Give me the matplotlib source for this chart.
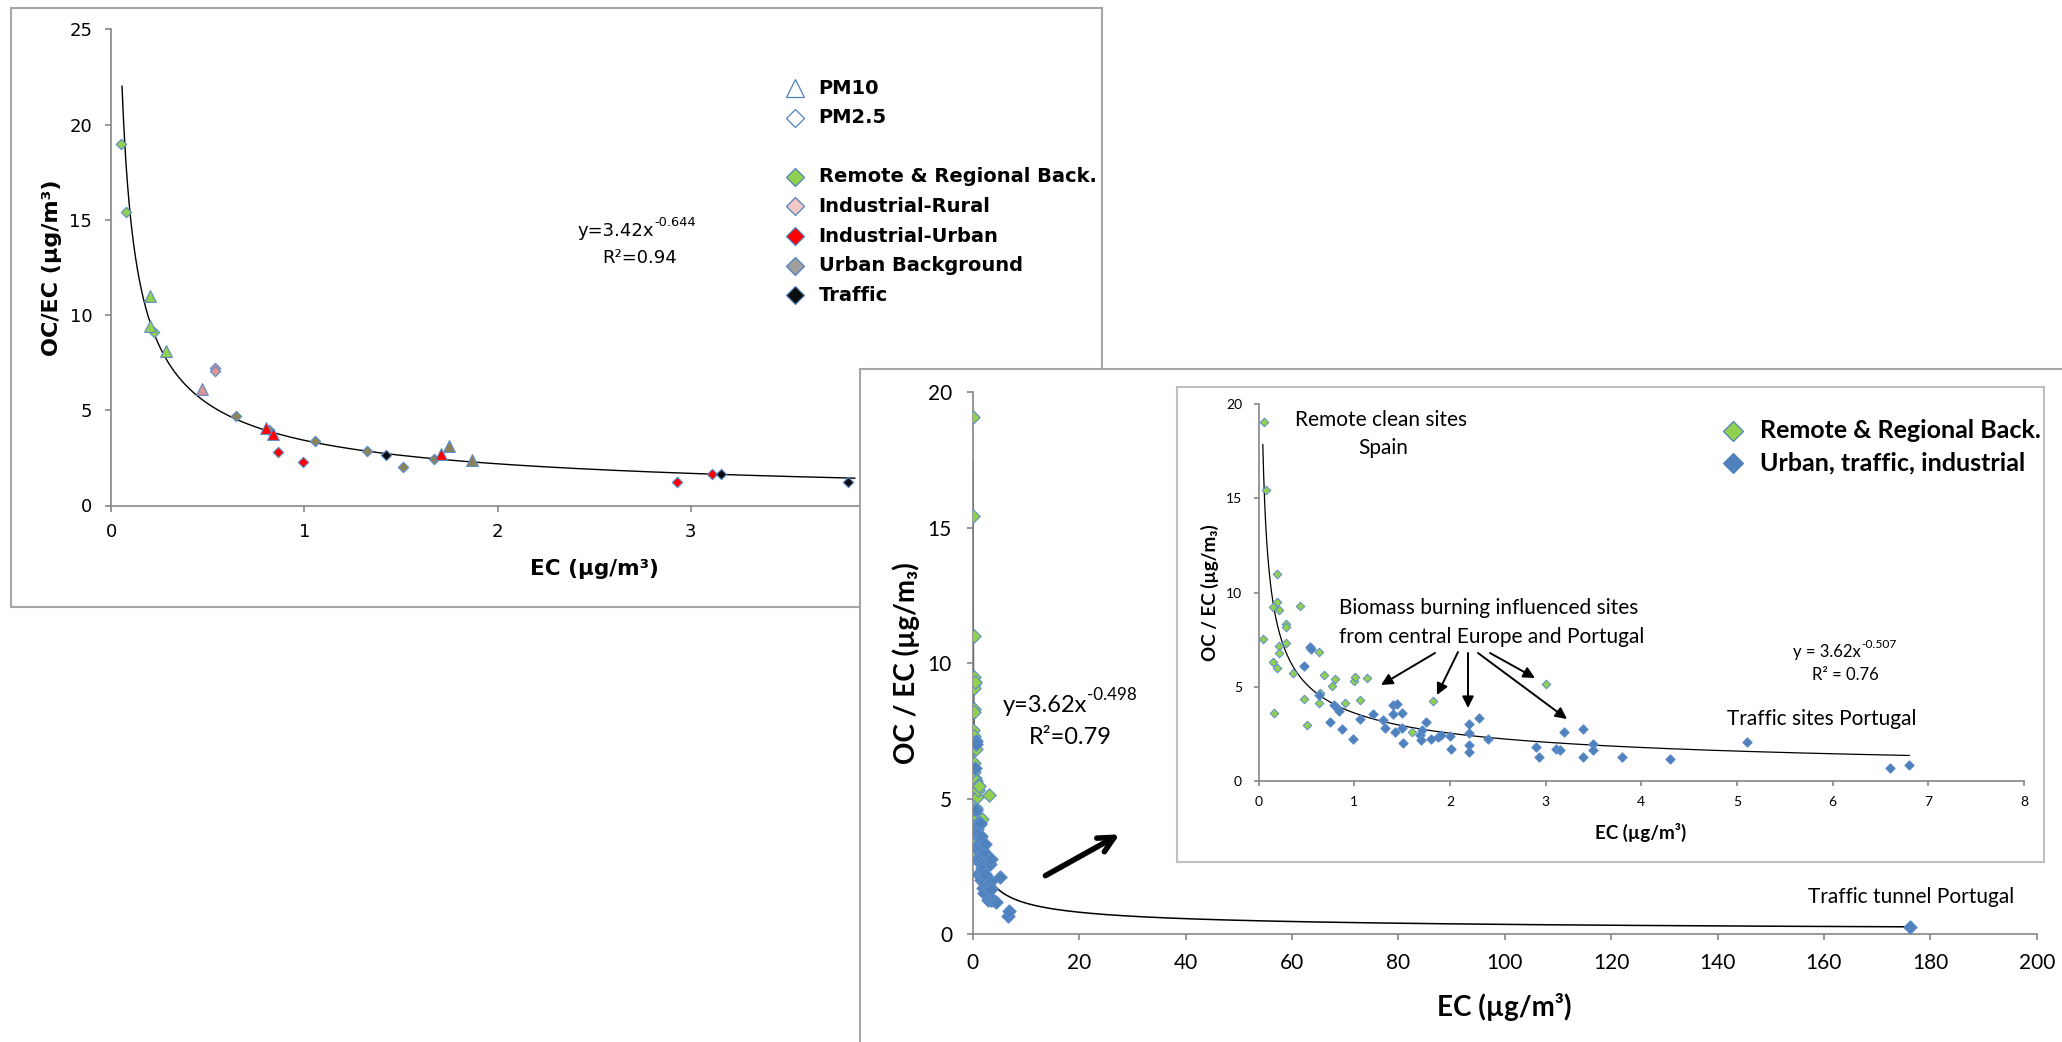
import numpy as np
import matplotlib.pyplot as plt
import matplotlib.transforms as mtransforms

W, H = 2062, 1042
LATO = ['Lato', 'DejaVu Sans']

# ---- left panel: OC/EC vs EC by site type (tri = PM10, dia = PM2.5)
rem_dia_x = [0.052, 0.074, 0.222]
rem_dia_y = [19.0, 15.4, 9.1]
rem_tri_x = [0.20, 0.20, 0.283]
rem_tri_y = [11.0, 9.4, 8.1]
indr_dia_x = [0.537, 0.537]
indr_dia_y = [7.2, 7.05]
indr_tri_x = [0.47]
indr_tri_y = [6.1]
indu_dia_x = [0.865, 0.993, 2.928, 3.112]
indu_dia_y = [2.82, 2.26, 1.25, 1.65]
indu_tri_x = [0.80, 0.837, 1.707]
indu_tri_y = [4.06, 3.75, 2.71]
ub_dia_x = [0.644, 0.818, 1.057, 1.324, 1.51, 1.67]
ub_dia_y = [4.68, 3.95, 3.37, 2.88, 2.03, 2.46]
ub_tri_x = [1.75, 1.87]
ub_tri_y = [3.13, 2.40]
tr_dia_x = [1.42, 3.157, 3.817]
tr_dia_y = [2.67, 1.65, 1.25]

# ---- right panel: remote/regional vs urban/traffic/industrial
green_x = [0.052, 0.077, 0.195, 0.153, 0.195, 0.216, 0.435, 0.042, 0.286, 0.286,
           0.212, 0.286, 0.212, 0.153, 0.195, 0.355, 0.627, 0.164, 0.477, 0.505,
           0.627, 0.644, 0.683, 0.766, 0.794, 0.899, 0.996, 1.007, 1.059, 1.129,
           1.602, 1.825, 2.999]
green_y = [19.06, 15.42, 11.0, 9.24, 9.49, 9.08, 9.31, 7.54, 8.32, 8.2,
           7.19, 7.31, 6.82, 6.31, 6.0, 5.76, 6.84, 3.64, 4.35, 2.99,
           4.13, 4.66, 5.64, 5.05, 5.42, 4.13, 5.32, 5.51, 4.31, 5.46,
           2.63, 4.26, 5.14]
blue_x = [0.470, 0.540, 0.550, 0.630, 0.749, 0.791, 0.815, 0.839, 0.867, 0.989,
          1.059, 1.198, 1.303, 1.324, 1.400, 1.400, 1.442, 1.425, 1.501, 1.512,
          1.494, 1.686, 1.693, 1.745, 1.710, 1.797, 1.870, 1.905, 1.999, 2.006,
          2.198, 2.198, 2.198, 2.198, 2.299, 2.400, 2.894, 2.929, 3.107, 3.149,
          3.194, 3.392, 3.392, 3.497, 3.497, 3.800, 4.295, 5.10, 6.60, 6.80]
blue_y = [6.13, 7.14, 7.0, 4.6, 3.16, 4.05, 3.87, 3.73, 2.77, 2.23,
          3.30, 3.55, 3.25, 2.84, 4.06, 3.55, 4.10, 2.63, 3.64, 2.01,
          2.81, 2.46, 2.19, 3.13, 2.72, 2.23, 2.37, 2.46, 2.40, 1.71,
          3.04, 2.58, 1.91, 1.54, 3.34, 2.23, 1.84, 1.27, 1.70, 1.66,
          2.60, 2.76, 1.27, 1.96, 1.66, 1.27, 1.18, 2.10, 0.69, 0.86]
tunnel_x = [176.2]
tunnel_y = [0.28]

# power-law trendlines y = a * x^b, with the x range they are drawn over
fit_left = (3.42, -0.644, 0.0555, 3.85)
fit_main = (3.62, -0.498, 0.0427, 176.2)
fit_inset = (3.62, -0.507, 0.043, 6.8)

GREEN, BLUE = '#92D050', '#4F81BD'
EDGE = '#5B8CCB'
PINK, RED, OLIVE, BLACK = '#D99594', '#FF0000', '#8C8259', '#0D0D0D'
AXC = '#868686'

plt.rcParams['font.family'] = ['DejaVu Sans']
fig = plt.figure(figsize=(W / 100, H / 100), dpi=100)
fig.patch.set_facecolor('white')
# pixel coords (origin top-left) -> figure
T = mtransforms.Affine2D().scale(1 / W, -1 / H).translate(0, 1) + fig.transFigure


def box(l, t, r, b):
    return [l / W, 1 - b / H, (r - l) / W, (b - t) / H]


def frame(rect, z, color):
    a = fig.add_axes(rect, zorder=z)
    a.set_xticks([])
    a.set_yticks([])
    a.set_facecolor('white')
    for s in a.spines.values():
        s.set_color(color)
        s.set_linewidth(1.5)
    return a


def style(ax, fs, padx, pady, tlen, family):
    for s in ['top', 'right']:
        ax.spines[s].set_visible(False)
    for s in ['left', 'bottom']:
        ax.spines[s].set_color(AXC)
        ax.spines[s].set_linewidth(1.2)
    ax.tick_params(direction='out', length=tlen, width=1.2, color=AXC, labelsize=fs)
    ax.tick_params(axis='x', pad=padx)
    ax.tick_params(axis='y', pad=pady)
    for lb in ax.get_xticklabels() + ax.get_yticklabels():
        lb.set_fontfamily(family)
    ax.patch.set_alpha(0)


def powerline(ax, fit, lw=1.0):
    a, b, x0, x1 = fit
    xs = np.geomspace(x0, x1, 500)
    ax.plot(xs, a * xs ** b, color='black', lw=lw, zorder=2)


def eq_text(ax, x, y, base, sup, fs, family):
    t = ax.text(x, y, base, transform=T, ha='left', va='center', fontsize=fs,
                family=family)
    ax.annotate(sup, xy=(1.0, 0.62), xycoords=t, ha='left', va='bottom',
                fontsize=fs * 0.72, family=family)


# ================= left panel =================
frame(box(10.7, 8, 1102, 607), 0, '#A6A6A6')
axL = fig.add_axes(box(111.3, 29.3, 883.7, 505.5), zorder=1)
axL.set_xlim(0, 4)
axL.set_ylim(0, 25)
axL.set_xticks([0, 1, 2, 3, 4])
axL.set_yticks([0, 5, 10, 15, 20, 25])
style(axL, 13, 8, 9.5, 4.3, ['DejaVu Sans'])
powerline(axL, fit_left)

groups = [
    (rem_dia_x, rem_dia_y, 'D', GREEN, 28), (rem_tri_x, rem_tri_y, '^', GREEN, 72),
    (indr_dia_x, indr_dia_y, 'D', PINK, 28), (indr_tri_x, indr_tri_y, '^', PINK, 72),
    (ub_dia_x, ub_dia_y, 'D', OLIVE, 28), (ub_tri_x, ub_tri_y, '^', OLIVE, 72),
    (indu_tri_x, indu_tri_y, '^', RED, 72), (indu_dia_x, indu_dia_y, 'D', RED, 28),
    (tr_dia_x, tr_dia_y, 'D', BLACK, 28),
]
for gx, gy, m, c, s in groups:
    axL.scatter(gx, gy, marker=m, s=s, c=c, edgecolors=EDGE, linewidths=0.8, zorder=3)

axL.text(51.8, 268, 'OC/EC (µg/m³)', transform=T, rotation=90, ha='center',
         va='center', fontsize=16, fontweight='bold')
axL.text(594, 569, 'EC (µg/m³)', transform=T, ha='center', va='center',
         fontsize=15.5, fontweight='bold')
eq_text(axL, 578, 231, 'y=3.42x', '-0.644', 13, ['DejaVu Sans'])
axL.text(640, 258, 'R²=0.94', transform=T, ha='center', va='center', fontsize=13)

leg = [('PM10', '^', 'white', 13.4), ('PM2.5', 'D', 'white', 9.5),
       ('Remote & Regional Back.', 'D', GREEN, 9.5),
       ('Industrial-Rural', 'D', '#F4C7C7', 9.5),
       ('Industrial-Urban', 'D', RED, 9.5),
       ('Urban Background', 'D', '#A0A0A0', 9.5),
       ('Traffic', 'D', BLACK, 9.5)]
for (lab, m, c, ms), row in zip(leg, [0, 1, 3, 4, 5, 6, 7]):
    yy = 88 + 29.6 * row
    axL.plot([795], [yy], marker=m, ms=ms, mfc=c, mec='#4F81BD', mew=0.9,
             transform=T, clip_on=False, ls='none')
    axL.text(818.6, yy, lab, transform=T, ha='left', va='center', fontsize=14,
             fontweight='bold')

# ================= right panel =================
frame(box(860, 368.7, 2120, 1100), 2, '#A6A6A6')
axM = fig.add_axes(box(972.7, 392, 2036.7, 934.3), zorder=3)
axM.set_xlim(0, 200)
axM.set_ylim(0, 20)
axM.set_xticks(range(0, 201, 20))
axM.set_yticks(range(0, 21, 5))
style(axM, 15, 9.5, 10.6, 4.3, LATO)
powerline(axM, fit_main, lw=1.1)
axM.scatter(green_x, green_y, marker='D', s=46, c=GREEN, edgecolors=EDGE,
            linewidths=0.8, zorder=3)
axM.scatter(blue_x + tunnel_x, blue_y + tunnel_y, marker='D', s=46, c=BLUE,
            edgecolors=EDGE, linewidths=0.8, zorder=3)
axM.text(906.5, 663, 'OC / EC (µg/m₃)', transform=T, rotation=90, ha='center',
         va='center', fontsize=20, fontweight='bold', family=LATO)
axM.text(1504.7, 1006.7, 'EC (µg/m³)', transform=T, ha='center', va='center',
         fontsize=20, fontweight='bold', family=LATO)
eq_text(axM, 1003, 706, 'y=3.62x', '-0.498', 17, LATO)
axM.text(1070, 737, 'R²=0.79', transform=T, ha='center', va='center',
         fontsize=17, family=LATO)
axM.text(1911, 897, 'Traffic tunnel Portugal', transform=T, ha='center',
         va='center', fontsize=15, family=LATO)
axM.annotate('', xy=(1122, 833), xytext=(1043, 877), xycoords=T, textcoords=T,
             arrowprops=dict(arrowstyle='->', color='black', lw=4,
                             mutation_scale=28))

# ================= inset =================
frame(box(1177, 387, 2044, 862), 4, '#BFBFBF')
axI = fig.add_axes(box(1258.7, 404, 2024, 781.3), zorder=5)
axI.set_xlim(0, 8)
axI.set_ylim(0, 20)
axI.set_xticks(range(0, 9))
axI.set_yticks(range(0, 21, 5))
style(axI, 10, 7, 8.6, 3.4, LATO)
powerline(axI, fit_inset, lw=0.9)
axI.scatter(green_x, green_y, marker='D', s=19, c=GREEN, edgecolors=EDGE,
            linewidths=0.7, zorder=3)
axI.scatter(blue_x, blue_y, marker='D', s=23, c=BLUE, edgecolors=EDGE,
            linewidths=0.7, zorder=3)
axI.text(1210, 593, 'OC / EC (µg/m₃)', transform=T, rotation=90, ha='center',
         va='center', fontsize=13.5, fontweight='bold', family=LATO)
axI.text(1641, 832, 'EC (µg/m³)', transform=T, ha='center', va='center',
         fontsize=13.5, fontweight='bold', family=LATO)
axI.text(1295, 420, 'Remote clean sites', transform=T, ha='left', va='center',
         fontsize=15, family=LATO)
axI.text(1383, 448, 'Spain', transform=T, ha='center', va='center',
         fontsize=15, family=LATO)
axI.text(1339, 608, 'Biomass burning influenced sites', transform=T, ha='left',
         va='center', fontsize=15, family=LATO)
axI.text(1339, 637, 'from central Europe and Portugal', transform=T, ha='left',
         va='center', fontsize=15, family=LATO)
arrows = [((1435, 653), (1381, 685)), ((1458, 652), (1437, 695)),
          ((1468, 653), (1468, 708)), ((1478, 653), (1567, 719)),
          ((1490, 653), (1535, 678))]
for p0, p1 in arrows:
    axI.annotate('', xy=p1, xytext=p0, xycoords=T, textcoords=T,
                 arrowprops=dict(arrowstyle='-|>', color='black', lw=1.4,
                                 mutation_scale=17, shrinkA=0, shrinkB=0))
axI.text(1726.7, 719, 'Traffic sites Portugal', transform=T, ha='left',
         va='center', fontsize=15, family=LATO)
eq_text(axI, 1793, 652, 'y = 3.62x', '-0.507', 12, LATO)
axI.text(1845.7, 675, 'R² = 0.76', transform=T, ha='center', va='center',
         fontsize=12, family=LATO)
for lab, c, yy in [('Remote & Regional Back.', GREEN, 430.7),
                   ('Urban, traffic, industrial', BLUE, 462.7)]:
    axI.plot([1733.3], [yy], marker='D', ms=10.5, mfc=c, mec='#4F81BD', mew=0.9,
             transform=T, clip_on=False, ls='none')
    axI.text(1760, yy, lab, transform=T, ha='left', va='center', fontsize=18,
             fontweight='bold', family=LATO)

fig.savefig('out.png', dpi=100, facecolor='white')
